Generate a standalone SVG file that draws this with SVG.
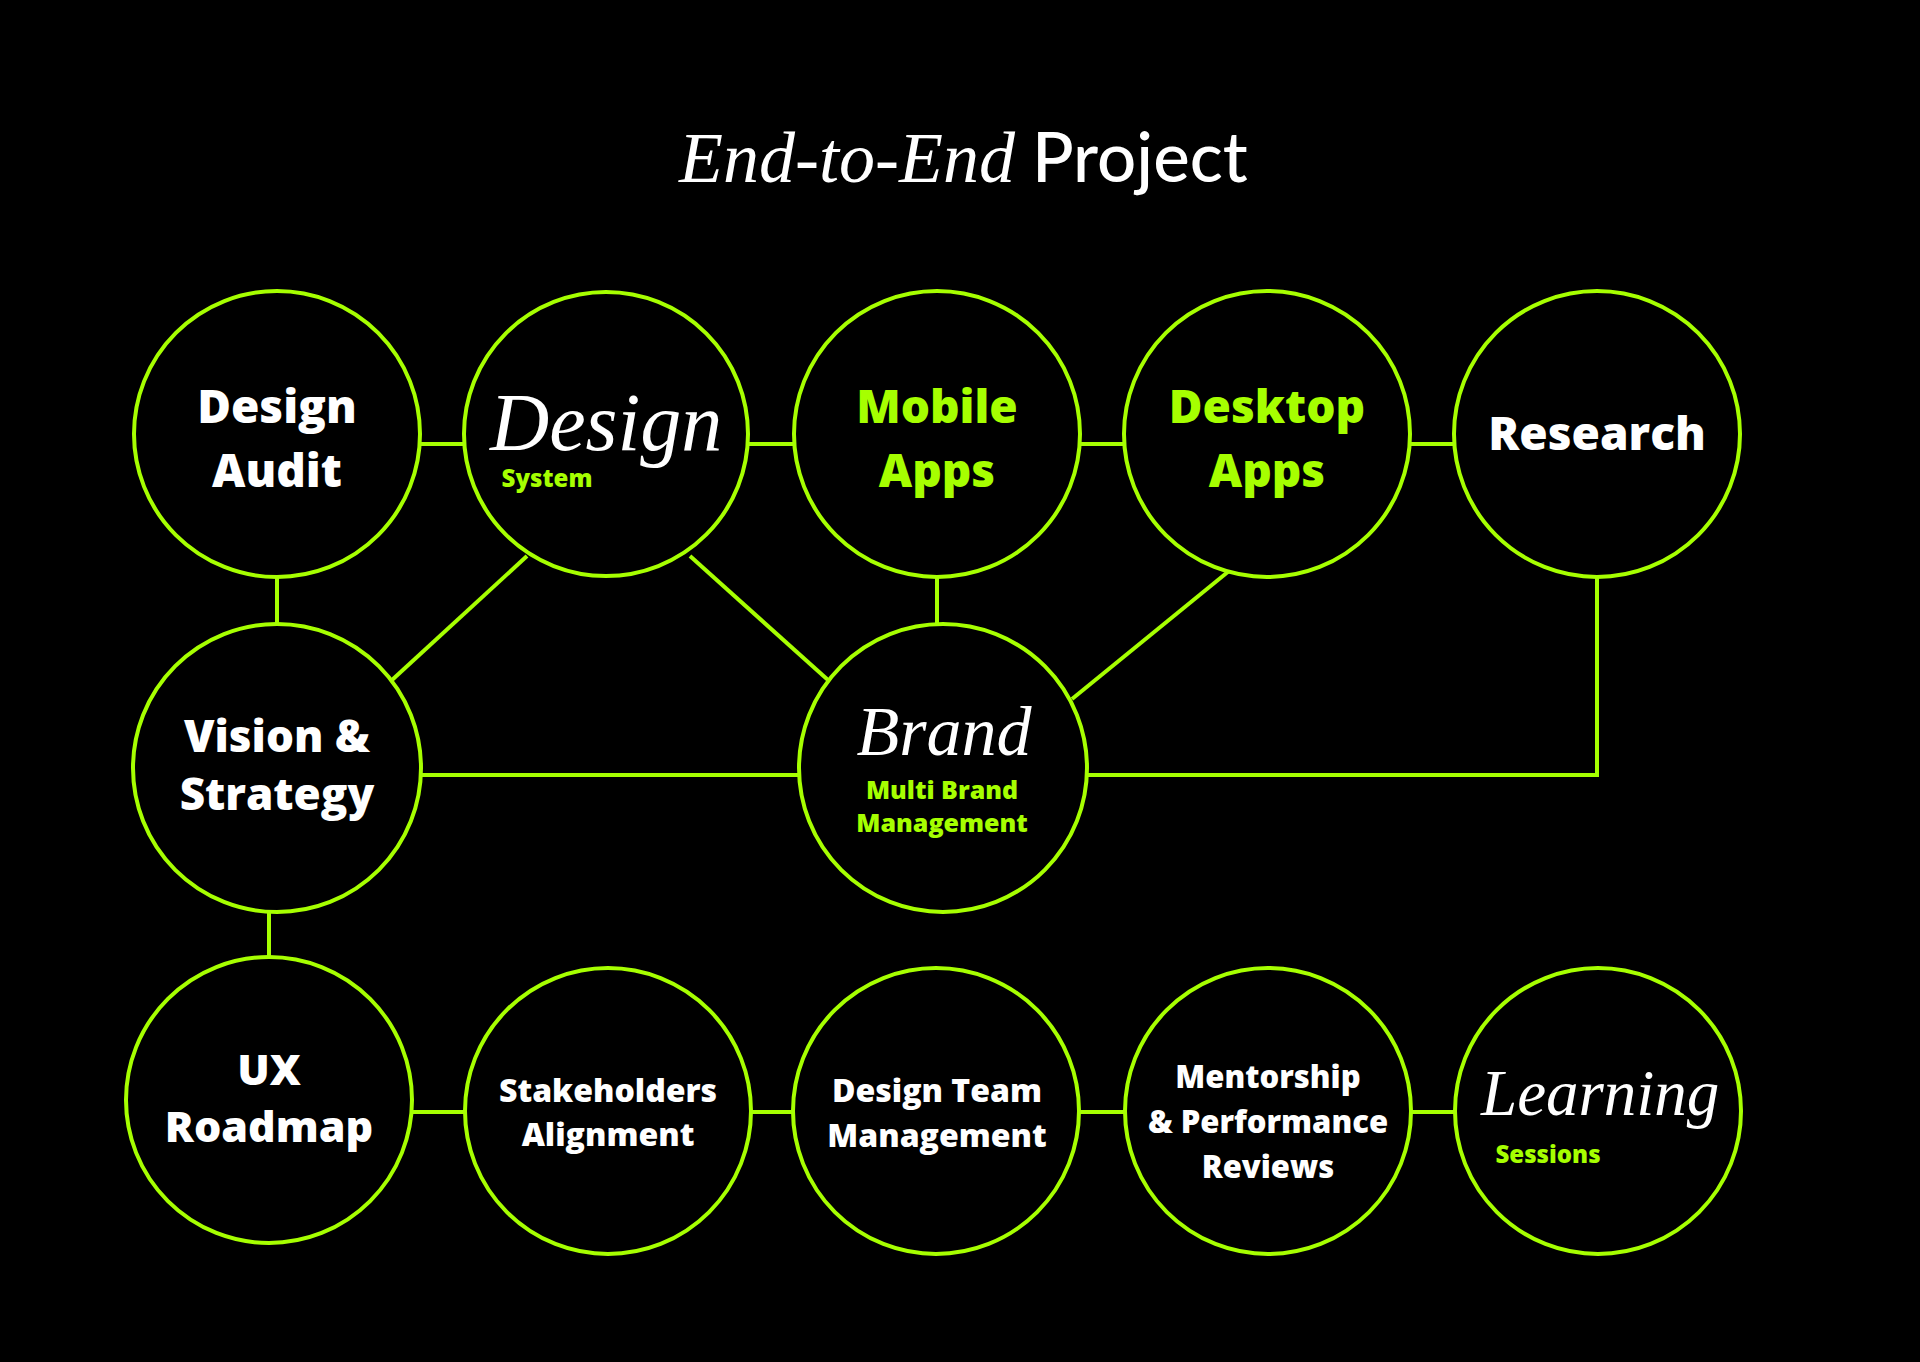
<svg xmlns="http://www.w3.org/2000/svg" width="1920" height="1362" viewBox="0 0 1920 1362">
<style>
.bg{fill:#000}
.node{fill:#000;stroke:#A6FF00;stroke-width:4}
.conn{fill:none;stroke:#A6FF00;stroke-width:4}
.s{font-family:"Open Sans","Liberation Sans",sans-serif;font-weight:800;text-anchor:middle}
.w{fill:#fff}
.g{fill:#A6FF00}
.it{font-family:"Liberation Serif","DejaVu Serif",serif;font-style:italic;fill:#fff}
</style>
<rect class="bg" x="0" y="0" width="1920" height="1362"/>
<g id="title">
<text x="679" y="182" class="it" font-size="72">End-to-End</text>
<text x="1032" y="182" font-family="Lato,'Open Sans',sans-serif" font-weight="500" font-size="69" fill="#fff">Project</text>
</g>
<g id="connectors">
<line class="conn" x1="420" y1="444" x2="465" y2="444"/>
<line class="conn" x1="748" y1="444" x2="794" y2="444"/>
<line class="conn" x1="1080" y1="444" x2="1124" y2="444"/>
<line class="conn" x1="1410" y1="444" x2="1453" y2="444"/>
<line class="conn" x1="277" y1="577" x2="277" y2="624"/>
<line class="conn" x1="527" y1="556" x2="392" y2="680"/>
<line class="conn" x1="690" y1="556" x2="828" y2="680"/>
<line class="conn" x1="937" y1="577" x2="937" y2="624"/>
<line class="conn" x1="1229" y1="571" x2="1072" y2="699"/>
<line class="conn" x1="421" y1="775" x2="799" y2="775"/>
<polyline class="conn" points="1087,775 1597,775 1597,577"/>
<line class="conn" x1="269" y1="912" x2="269" y2="957"/>
<line class="conn" x1="412" y1="1112" x2="465" y2="1112"/>
<line class="conn" x1="751" y1="1112" x2="793" y2="1112"/>
<line class="conn" x1="1079" y1="1112" x2="1125" y2="1112"/>
<line class="conn" x1="1411" y1="1112" x2="1456" y2="1112"/>
</g>
<g id="design-audit">
<circle class="node" cx="277" cy="434" r="143"/>
<text class="s w" x="277" y="423" font-size="46">Design</text>
<text class="s w" x="277" y="487" font-size="46">Audit</text>
</g>
<g id="design-system">
<circle class="node" cx="606" cy="434" r="142"/>
<text class="it" x="490" y="450" font-size="82">Design</text>
<text class="s g" x="547" y="487" font-size="24">System</text>
</g>
<g id="mobile-apps">
<circle class="node" cx="937" cy="434" r="143"/>
<text class="s g" x="937" y="423" font-size="46">Mobile</text>
<text class="s g" x="937" y="487" font-size="46">Apps</text>
</g>
<g id="desktop-apps">
<circle class="node" cx="1267" cy="434" r="143"/>
<text class="s g" x="1267" y="423" font-size="46">Desktop</text>
<text class="s g" x="1267" y="487" font-size="46">Apps</text>
</g>
<g id="research">
<circle class="node" cx="1597" cy="434" r="143"/>
<text class="s w" x="1597" y="450" font-size="46">Research</text>
</g>
<g id="vision-strategy">
<circle class="node" cx="277" cy="768" r="144"/>
<text class="s w" x="277" y="752" font-size="44">Vision &amp;</text>
<text class="s w" x="277" y="810" font-size="44">Strategy</text>
</g>
<g id="brand">
<circle class="node" cx="943" cy="768" r="144"/>
<text class="it" x="944" y="755" font-size="70" text-anchor="middle">Brand</text>
<text class="s g" x="942" y="799" font-size="25">Multi Brand</text>
<text class="s g" x="942" y="832" font-size="25">Management</text>
</g>
<g id="ux-roadmap">
<circle class="node" cx="269" cy="1100" r="143"/>
<text class="s w" x="269" y="1085" font-size="43">UX</text>
<text class="s w" x="269" y="1142" font-size="43">Roadmap</text>
</g>
<g id="stakeholders">
<circle class="node" cx="608" cy="1111" r="143"/>
<text class="s w" x="608" y="1102" font-size="32">Stakeholders</text>
<text class="s w" x="608" y="1146" font-size="32">Alignment</text>
</g>
<g id="design-team">
<circle class="node" cx="936" cy="1111" r="143"/>
<text class="s w" x="937" y="1102" font-size="32">Design Team</text>
<text class="s w" x="937" y="1147" font-size="32">Management</text>
</g>
<g id="mentorship">
<circle class="node" cx="1268" cy="1111" r="143"/>
<text class="s w" x="1268" y="1088" font-size="31">Mentorship</text>
<text class="s w" x="1268" y="1133" font-size="31">&amp; Performance</text>
<text class="s w" x="1268" y="1178" font-size="31">Reviews</text>
</g>
<g id="learning">
<circle class="node" cx="1598" cy="1111" r="143"/>
<text class="it" x="1481" y="1115" font-size="65">Learning</text>
<text class="s g" x="1548" y="1163" font-size="24">Sessions</text>
</g>
</svg>
